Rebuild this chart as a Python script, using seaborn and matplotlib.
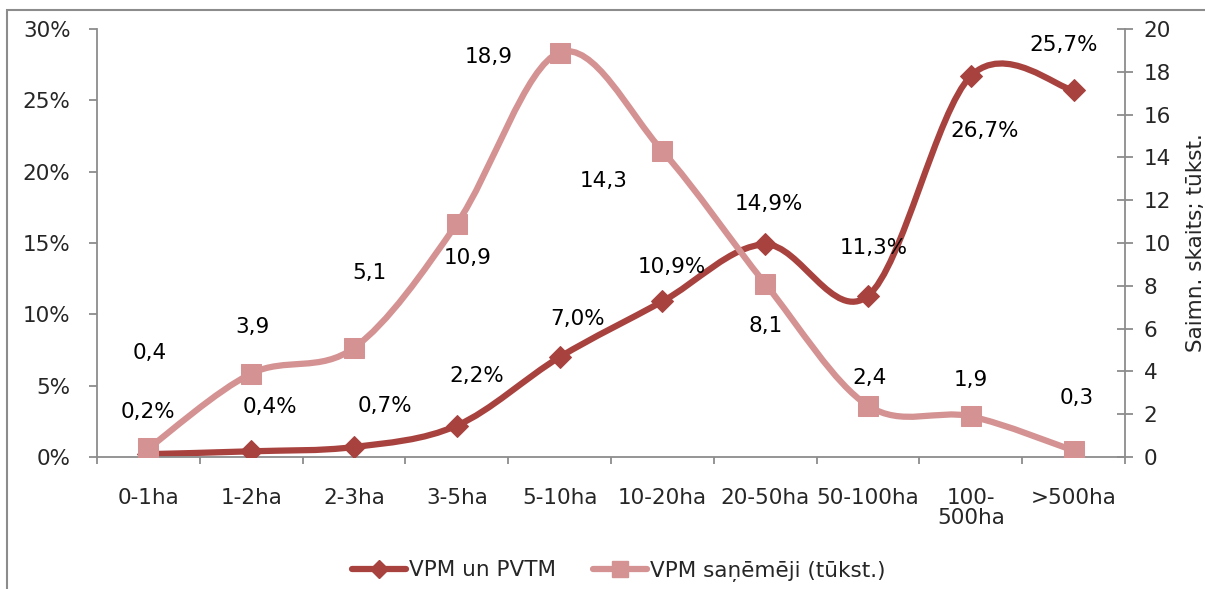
import numpy as np
import matplotlib
matplotlib.use("Agg")
import matplotlib.pyplot as plt
import seaborn as sns
from matplotlib.path import Path
from matplotlib.patches import PathPatch, Rectangle
from matplotlib.lines import Line2D

# data
categories = ["0-1ha", "1-2ha", "2-3ha", "3-5ha", "5-10ha", "10-20ha",
              "20-50ha", "50-100ha", "100-\n500ha", ">500ha"]
vpm_pvtm = [0.2, 0.4, 0.7, 2.2, 7.0, 10.9, 14.9, 11.3, 26.7, 25.7]      # %
vpm_recipients = [0.4, 3.9, 5.1, 10.9, 18.9, 14.3, 8.1, 2.4, 1.9, 0.3]  # thousand

left_ticks = [0, 5, 10, 15, 20, 25, 30]
right_ticks = [0, 2, 4, 6, 8, 10, 12, 14, 16, 18, 20]

# label offsets in pixels (dx right, dy down) relative to the marker
dark_offsets = [(0, -42), (19, -44), (31, -41), (20, -50), (18, -38),
                (9, -34), (4, -40), (6, -48), (14, 55), (-10, -45)]
pink_offsets = [(1, -95), (1, -47), (15, -75), (11, 34), (-71, 4),
                (-59, 30), (0, 42), (2, -28), (0, -36), (3, -53)]

DARK = "#A8423F"
PINK = "#D49292"
GRID = "#8C8C8C"
FS = 15.5

sns.set_style("ticks")
plt.rcParams["font.family"] = ["DejaVu Sans"]


def smooth_path(xs, ys):
    # Excel style smoothed line: Catmull-Rom segments as cubic Beziers
    pts = np.column_stack([xs, ys]).astype(float)
    n = len(pts)
    verts = [pts[0]]
    codes = [Path.MOVETO]
    for i in range(n - 1):
        p0 = pts[max(i - 1, 0)]
        p1 = pts[i]
        p2 = pts[i + 1]
        p3 = pts[min(i + 2, n - 1)]
        verts += [p1 + (p2 - p0) / 6, p2 - (p3 - p1) / 6, p2]
        codes += [Path.CURVE4] * 3
    return Path(verts, codes)


fig = plt.figure(figsize=(12.05, 5.89), dpi=100)
ax = fig.add_axes([97 / 1205, 1 - 457 / 589, (1125 - 97) / 1205, (457 - 29) / 589])
ax2 = ax.twinx()

x = np.arange(len(categories))

ax.add_patch(PathPatch(smooth_path(x, vpm_pvtm), fill=False, ec=DARK, lw=4.5,
                       capstyle="round", zorder=2))
sns.lineplot(x=x, y=vpm_pvtm, ax=ax, linestyle="", marker="D", markersize=11,
             color=DARK, markeredgecolor=DARK, zorder=3)

ax2.add_patch(PathPatch(smooth_path(x, vpm_recipients), fill=False, ec=PINK, lw=4.5,
                        capstyle="round", zorder=2))
sns.lineplot(x=x, y=vpm_recipients, ax=ax2, linestyle="", marker="s", markersize=15,
             color=PINK, markeredgecolor=PINK, zorder=3)

for xi, v, (dx, dy) in zip(x, vpm_pvtm, dark_offsets):
    ax.annotate(f"{v:.1f}".replace(".", ",") + "%", (xi, v),
                xytext=(dx * 0.72, -dy * 0.72), textcoords="offset points",
                ha="center", va="center", fontsize=FS, color="black")
for xi, v, (dx, dy) in zip(x, vpm_recipients, pink_offsets):
    ax2.annotate(f"{v:.1f}".replace(".", ","), (xi, v),
                 xytext=(dx * 0.72, -dy * 0.72), textcoords="offset points",
                 ha="center", va="center", fontsize=FS, color="black")

# axes limits and ticks
ax.set_xlim(-0.5, len(categories) - 0.5)
ax.set_ylim(0, 30)
ax2.set_ylim(0, 20)
ax.set_yticks(left_ticks)
ax.set_yticklabels([f"{t}%" for t in left_ticks])
ax2.set_yticks(right_ticks)
ax2.set_yticklabels([str(t) for t in right_ticks])

ax.set_xticks(np.arange(len(categories) + 1) - 0.5)
ax.set_xticklabels([])
ax.set_xticks(x, minor=True)
ax.set_xticklabels(categories, minor=True, va="top", linespacing=1.0)
ax.tick_params(axis="x", which="major", direction="out", length=5, width=1.3, color=GRID)
ax.tick_params(axis="x", which="minor", length=0, pad=22, labelsize=FS)
ax.tick_params(axis="y", direction="out", length=6, width=1.3, color=GRID, pad=13,
               labelsize=FS)
ax2.tick_params(axis="y", direction="inout", length=11, width=1.3, color=GRID, pad=8,
                labelsize=FS)

ax2.set_ylabel("Saimn. skaits; tūkst.", fontsize=FS, labelpad=11)

for a in (ax, ax2):
    a.spines["top"].set_visible(False)
    for s in ("left", "right", "bottom"):
        a.spines[s].set_color(GRID)
        a.spines[s].set_linewidth(1.3)
ax.spines["right"].set_visible(False)
ax2.spines["left"].set_visible(False)
ax2.spines["bottom"].set_visible(False)
ax2.patch.set_visible(False)

handles = [
    Line2D([], [], color=DARK, lw=4.5, marker="D", markersize=9, label="VPM un PVTM"),
    Line2D([], [], color=PINK, lw=4.5, marker="s", markersize=11,
           label="VPM saņēmēji (tūkst.)"),
]
fig.legend(handles=handles, loc="center", bbox_to_anchor=(619 / 1205, 1 - 571 / 589),
           ncol=2, frameon=False, fontsize=FS, handlelength=2.5, handletextpad=0.15,
           columnspacing=1.7)

# outer chart frame (cut off at right and bottom like the reference)
fig.add_artist(Rectangle((7 / 1205, -0.1), 1.2, 1.1 - 10 / 589, transform=fig.transFigure,
                         fill=False, ec=GRID, lw=1.5))

fig.savefig("out.png", dpi=100)
